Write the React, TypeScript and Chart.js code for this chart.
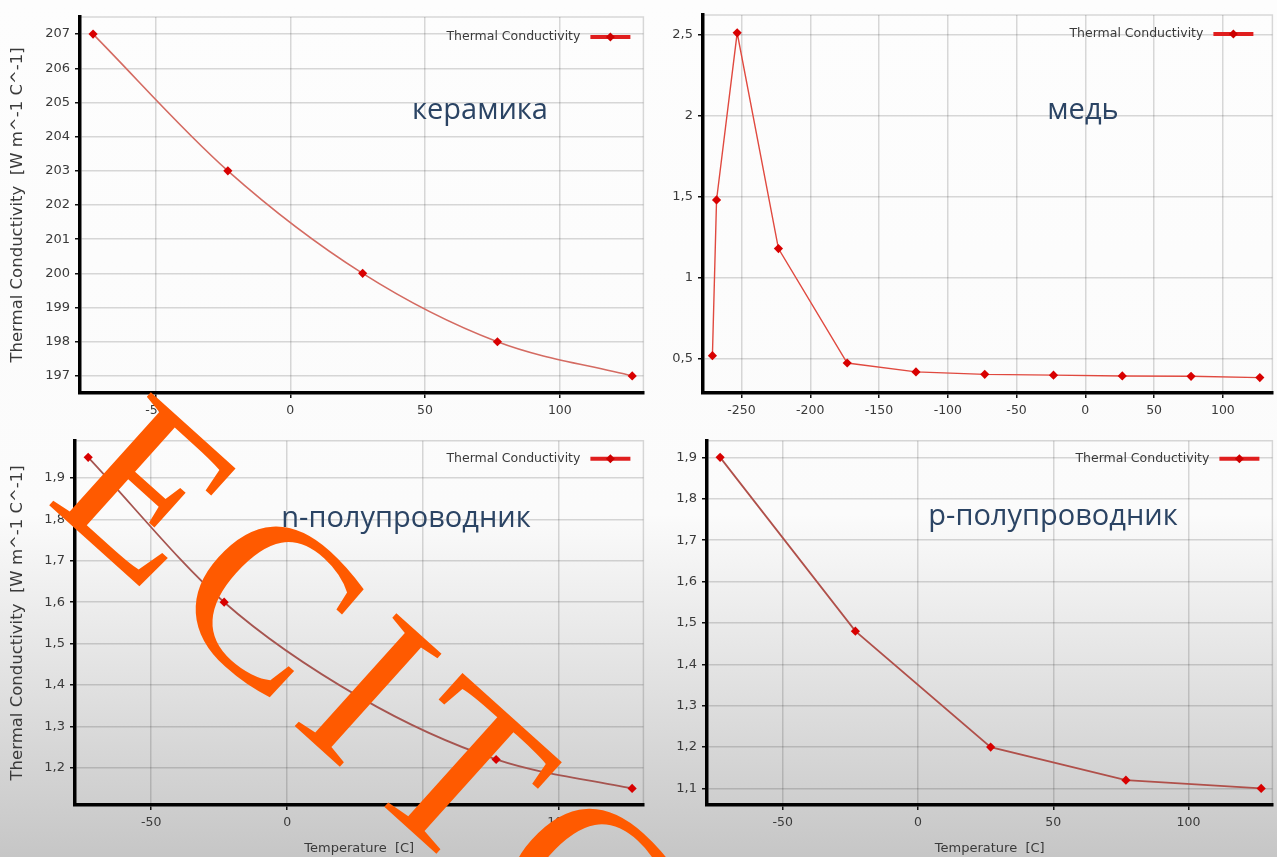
import React, { useEffect, useRef } from "react";
import { Chart, registerables } from "chart.js";

Chart.register(...registerables);

// ---------------- data ----------------
const ceramicTemperature = [-73.15, -23.15, 26.85, 76.85, 126.85];
const ceramicConductivity = [207, 203, 200, 198, 197];

const copperTemperature = [-271.15, -268.15, -253.15, -223.15, -173.15, -123.15, -73.15, -23.15, 26.85, 76.85, 126.85];
const copperConductivity = [0.52, 1.48, 2.51, 1.18, 0.475, 0.42, 0.405, 0.4, 0.395, 0.393, 0.385];

const nSemiTemperature = [-73.15, -23.15, 26.85, 76.85, 126.85];
const nSemiConductivity = [1.95, 1.6, 1.37, 1.22, 1.15];

const pSemiTemperature = [-73.15, -23.15, 26.85, 76.85, 126.85];
const pSemiConductivity = [1.9, 1.48, 1.2, 1.12, 1.1];

const temperatureTicks = [-50, 0, 50, 100];
const copperTemperatureTicks = [-250, -200, -150, -100, -50, 0, 50, 100];
const ceramicTicks = [197, 198, 199, 200, 201, 202, 203, 204, 205, 206, 207];
const copperTicks = [0.5, 1, 1.5, 2, 2.5];
const nSemiTicks = [1.2, 1.3, 1.4, 1.5, 1.6, 1.7, 1.8, 1.9];
const pSemiTicks = [1.1, 1.2, 1.3, 1.4, 1.5, 1.6, 1.7, 1.8, 1.9];

const seriesLabel = "Thermal Conductivity";
const yAxisTitle = "Thermal Conductivity  [W m^-1 C^-1]";
const xAxisTitle = "Temperature  [C]";
const materialLabels = ["керамика", "медь", "n-полупроводник", "р-полупроводник"];
const watermarkText = "ECITC";

// ---------------- panel setup ----------------
type PanelCfg = {
  temps: number[];
  values: number[];
  xTicks: number[];
  yTicks: number[];
  xMin: number;
  xMax: number;
  yMin: number;
  yMax: number;
  lineColor: string;
  lineWidth: number;
  smooth: boolean;
  left: number;
  top: number;
  width: number;
  height: number;
  padTop: number;
  padRight: number;
  yAxisWidth: number;
  xAxisHeight: number;
  showYTitle: boolean;
  showXTitle: boolean;
  legendDy: number;
  legendDx: number;
};

const panels: PanelCfg[] = [
  {
    temps: ceramicTemperature, values: ceramicConductivity, xTicks: temperatureTicks, yTicks: ceramicTicks,
    xMin: -78, xMax: 131, yMin: 196.5, yMax: 207.5, lineColor: "#d46b62", lineWidth: 1.6, smooth: true,
    left: 0, top: 0, width: 648, height: 428, padTop: 17, padRight: 3, yAxisWidth: 80, xAxisHeight: 35,
    showYTitle: true, showXTitle: false, legendDy: 20, legendDx: 13,
  },
  {
    temps: copperTemperature, values: copperConductivity, xTicks: copperTemperatureTicks, yTicks: copperTicks,
    xMin: -278, xMax: 136, yMin: 0.29, yMax: 2.62, lineColor: "#e0493f", lineWidth: 1.4, smooth: false,
    left: 648, top: 0, width: 629, height: 428, padTop: 15, padRight: 2, yAxisWidth: 55, xAxisHeight: 35,
    showYTitle: false, showXTitle: false, legendDy: 19, legendDx: 19,
  },
  {
    temps: nSemiTemperature, values: nSemiConductivity, xTicks: temperatureTicks, yTicks: nSemiTicks,
    xMin: -78, xMax: 131, yMin: 1.11, yMax: 1.99, lineColor: "#a65550", lineWidth: 1.8, smooth: true,
    left: 0, top: 428, width: 648, height: 429, padTop: 3, padRight: 3, yAxisWidth: 75, xAxisHeight: 52,
    showYTitle: true, showXTitle: true, legendDy: 18, legendDx: 13,
  },
  {
    temps: pSemiTemperature, values: pSemiConductivity, xTicks: temperatureTicks, yTicks: pSemiTicks,
    xMin: -78, xMax: 131, yMin: 1.06, yMax: 1.94, lineColor: "#b0504a", lineWidth: 1.8, smooth: false,
    left: 648, top: 428, width: 629, height: 429, padTop: 3, padRight: 2, yAxisWidth: 59, xAxisHeight: 52,
    showYTitle: false, showXTitle: true, legendDy: 18, legendDx: 13,
  },
];

const GRID = "rgba(0,0,0,0.15)";
const TEXT = "#3a3a3a";
const FONT = "'DejaVu Sans', sans-serif";

const fmt = (v: number | string) => String(+Number(v).toFixed(3)).replace(".", ",");

const framePlugin = {
  id: "plotFrame",
  beforeDatasetsDraw(chart: any) {
    const { ctx, chartArea } = chart;
    const { left, top, right, bottom } = chartArea;
    ctx.save();
    ctx.strokeStyle = GRID;
    ctx.lineWidth = 1.5;
    ctx.beginPath();
    ctx.moveTo(left, top);
    ctx.lineTo(right, top);
    ctx.lineTo(right, bottom);
    ctx.stroke();
    ctx.restore();
  },
};

// legend drawn inside the plot, text first and the line-with-diamond sample after it
const insideLegendPlugin = {
  id: "insideLegend",
  afterDraw(chart: any, _args: any, opts: any) {
    const { ctx, chartArea } = chart;
    const ds = chart.data.datasets[0];
    const y = chartArea.top + opts.dy;
    const xEnd = chartArea.right - opts.dx;
    const xStart = xEnd - 40;
    ctx.save();
    ctx.strokeStyle = "#e01e1e";
    ctx.lineWidth = 4;
    ctx.beginPath();
    ctx.moveTo(xStart, y);
    ctx.lineTo(xEnd, y);
    ctx.stroke();
    ctx.fillStyle = "#cc0000";
    const cx = (xStart + xEnd) / 2;
    ctx.beginPath();
    ctx.moveTo(cx, y - 4.5);
    ctx.lineTo(cx + 4.5, y);
    ctx.lineTo(cx, y + 4.5);
    ctx.lineTo(cx - 4.5, y);
    ctx.closePath();
    ctx.fill();
    ctx.fillStyle = TEXT;
    ctx.font = "12.5px " + FONT;
    ctx.textAlign = "right";
    ctx.textBaseline = "middle";
    ctx.fillText(ds.label, xStart - 10, y);
    ctx.restore();
  },
};

function Panel({ cfg }: { cfg: PanelCfg }) {
  const ref = useRef<HTMLCanvasElement>(null);
  useEffect(() => {
    const chart = new Chart(ref.current!, {
      type: "line",
      data: {
        datasets: [
          {
            label: seriesLabel,
            data: cfg.temps.map((t, i) => ({ x: t, y: cfg.values[i] })),
            borderColor: cfg.lineColor,
            borderWidth: cfg.lineWidth,
            backgroundColor: "#d80000",
            pointStyle: "rectRot",
            pointRadius: 4.6,
            pointBackgroundColor: "#d80000",
            pointBorderColor: "#d80000",
            pointBorderWidth: 0,
            cubicInterpolationMode: cfg.smooth ? "monotone" : "default",
            tension: 0,
            fill: false,
          } as any,
        ],
      },
      options: {
        animation: false,
        responsive: false,
        maintainAspectRatio: false,
        layout: { padding: { top: cfg.padTop, right: cfg.padRight, left: 0, bottom: 0 } },
        plugins: {
          tooltip: { enabled: false },
          legend: { display: false },
          insideLegend: { dx: cfg.legendDx, dy: cfg.legendDy },
        } as any,
        scales: {
          x: {
            type: "linear",
            min: cfg.xMin,
            max: cfg.xMax,
            afterBuildTicks: (s: any) => {
              s.ticks = cfg.xTicks.map((v) => ({ value: v }));
            },
            afterFit: (s: any) => {
              s.height = cfg.xAxisHeight;
            },
            grid: { color: GRID, lineWidth: 1.5, tickColor: "#111", tickLength: 5, tickWidth: 1.5 },
            border: { color: "#000", width: 3.5 },
            ticks: {
              color: TEXT,
              font: { family: FONT, size: 12.5 },
              padding: 5,
              maxRotation: 0,
              autoSkip: false,
              callback: (v: any) => fmt(v),
            },
            title: {
              display: cfg.showXTitle,
              text: xAxisTitle,
              color: TEXT,
              font: { family: FONT, size: 13 },
              padding: { top: 0, bottom: 1 },
            },
          },
          y: {
            type: "linear",
            min: cfg.yMin,
            max: cfg.yMax,
            afterBuildTicks: (s: any) => {
              s.ticks = cfg.yTicks.map((v) => ({ value: v }));
            },
            afterFit: (s: any) => {
              s.width = cfg.yAxisWidth;
            },
            grid: { color: GRID, lineWidth: 1.5, tickColor: "#111", tickLength: 5, tickWidth: 1.5 },
            border: { color: "#000", width: 3.5 },
            ticks: {
              color: TEXT,
              font: { family: FONT, size: 13 },
              padding: 5,
              autoSkip: false,
              callback: (v: any) => fmt(v),
            },
            title: {
              display: cfg.showYTitle,
              text: yAxisTitle,
              color: TEXT,
              font: { family: FONT, size: 16.5 },
              padding: { top: 8, bottom: 0 },
            },
          },
        },
      },
      plugins: [framePlugin, insideLegendPlugin],
    });
    return () => chart.destroy();
  }, [cfg]);
  return (
    <canvas
      ref={ref}
      width={cfg.width}
      height={cfg.height}
      style={{ position: "absolute", left: cfg.left, top: cfg.top, width: cfg.width, height: cfg.height }}
    />
  );
}

const labelPositions = [
  { x: 480, y: 107 },
  { x: 1083, y: 107 },
  { x: 406, y: 515 },
  { x: 1053, y: 513 },
];

export default function App() {
  return (
    <div
      style={{
        position: "fixed",
        left: 0,
        top: 0,
        width: 1277,
        height: 857,
        overflow: "hidden",
        background: "linear-gradient(to bottom, #fdfdfd 0%, #fbfbfb 60%, #c6c6c6 100%)",
      }}
    >
      {panels.map((p, i) => (
        <Panel key={i} cfg={p} />
      ))}
      {materialLabels.map((t, i) => (
        <div
          key={t}
          style={{
            position: "absolute",
            left: labelPositions[i].x,
            top: labelPositions[i].y,
            transform: "translate(-50%, -50%)",
            fontFamily: "'Open Sans', sans-serif",
            fontSize: 29,
            color: "#2b4464",
            whiteSpace: "nowrap",
            pointerEvents: "none",
          }}
        >
          {t}
        </div>
      ))}
      <div
        style={{
          position: "absolute",
          left: 45,
          top: 500,
          width: 0,
          height: 0,
          transform: "rotate(42deg)",
          transformOrigin: "0 0",
          pointerEvents: "none",
        }}
      >
        <div
          style={{
            position: "absolute",
            left: 0,
            top: -193,
            fontFamily: "'Liberation Serif', serif",
            fontSize: 232,
            lineHeight: "232px",
            letterSpacing: 16,
            color: "#ff5a00",
            whiteSpace: "nowrap",
          }}
        >
          {watermarkText}
        </div>
      </div>
    </div>
  );
}
